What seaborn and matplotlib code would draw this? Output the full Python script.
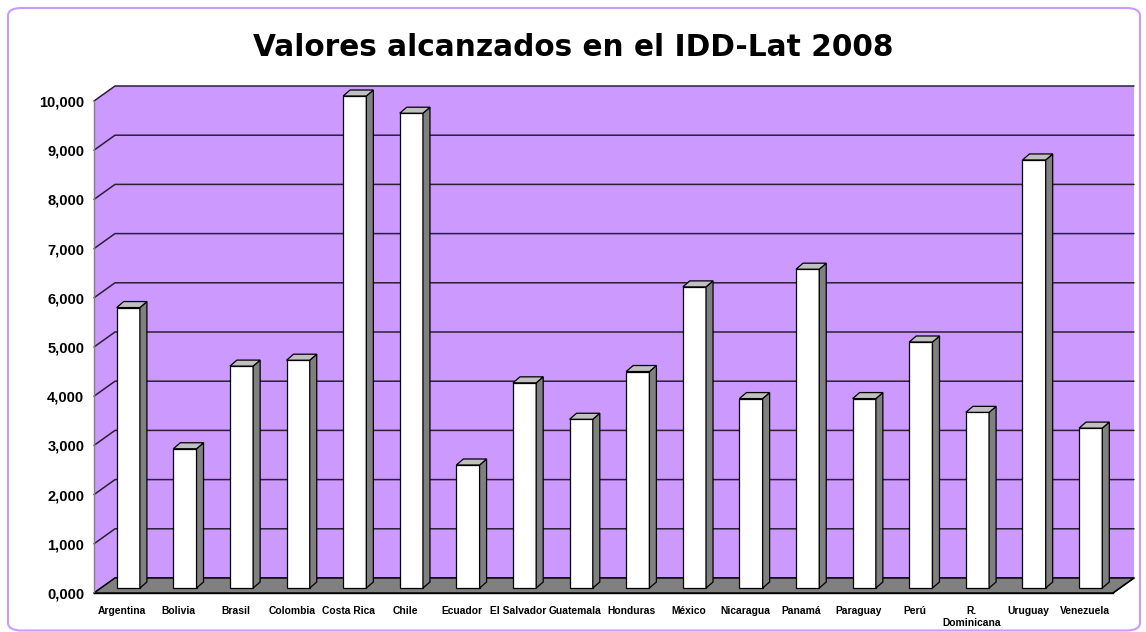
import matplotlib
matplotlib.use("Agg")
import matplotlib.pyplot as plt
import seaborn as sns
from matplotlib.patches import Polygon, FancyBboxPatch
from matplotlib.ticker import FixedLocator, FuncFormatter

countries = ["Argentina", "Bolivia", "Brasil", "Colombia", "Costa Rica", "Chile",
             "Ecuador", "El Salvador", "Guatemala", "Honduras", "México", "Nicaragua",
             "Panamá", "Paraguay", "Perú", "R.\nDominicana", "Uruguay", "Venezuela"]
values = [5.70, 2.83, 4.51, 4.63, 10.00, 9.65, 2.50, 4.17, 3.43, 4.40, 6.12, 3.85,
          6.48, 3.85, 5.00, 3.57, 8.70, 3.25]
yticks = list(range(0, 11))
title = "Valores alcanzados en el IDD-Lat 2008"

W, H = 1146, 632
sns.set_theme(style="white")
plt.rcParams['font.family'] = ['Liberation Sans', 'DejaVu Sans']
plt.rcParams['text.color'] = 'black'
plt.rcParams['xtick.labelcolor'] = 'black'
plt.rcParams['ytick.labelcolor'] = 'black'

fig = plt.figure(figsize=(W / 100, H / 100), dpi=100)
fig.patch.set_facecolor("white")
border = FancyBboxPatch((8 / W, 1.5 / H), 1132 / W, 622.5 / H, boxstyle="round,pad=0,rounding_size=0.012",
                        transform=fig.transFigure, facecolor="none", edgecolor="#CC99FF", linewidth=1.5)
fig.patches.append(border)

x0, x1, y0, ytop = 94, 1113, 593, 101
ax = fig.add_axes([x0 / W, (H - y0) / H, (x1 - x0) / W, (y0 - ytop) / H])
ax.set_facecolor("none")
n = len(countries)
ax.set_xlim(-0.5, n - 0.5)
ax.set_ylim(0, 10)

sx = n / (x1 - x0)
sy = 10 / (y0 - ytop)
WDX, WDY = 21 * sx, 15 * sy
BDX, BDY = 6 * sx, 5 * sy
DDX, DDY = 7 * sx, 6 * sy

purple = "#CC99FF"
gray = "#808080"
xl, xr = -0.5, n - 0.5
wall = Polygon([(xl, 0), (xl + WDX, WDY), (xr + WDX, WDY), (xr + WDX, 10 + WDY),
                (xl + WDX, 10 + WDY), (xl, 10)], closed=True, facecolor=purple,
               edgecolor="none", clip_on=False, zorder=0)
ax.add_patch(wall)
for k in yticks:
    ax.plot([xl, xl + WDX, xr + WDX], [k, k + WDY, k + WDY], color="#2a2035",
            lw=1.1, clip_on=False, zorder=1)
floor = Polygon([(xl, 0), (xr, 0), (xr + WDX, WDY), (xl + WDX, WDY)], closed=True,
                facecolor=gray, edgecolor="black", lw=1.0, clip_on=False, zorder=1.5)
ax.add_patch(floor)

df_x = list(range(n))
sns.barplot(x=df_x, y=values, color="white", edgecolor="black", linewidth=0.9,
            width=0.41, ax=ax, zorder=3, saturation=1)
for p in list(ax.patches):
    if p in (wall, floor):
        continue
    px, pw, ph = p.get_x(), p.get_width(), p.get_height()
    p.set_x(px + BDX)
    p.set_y(BDY)
    p.set_clip_on(False)
    bx1 = px + BDX + pw
    side = Polygon([(bx1, BDY), (bx1, BDY + ph), (bx1 + DDX, BDY + ph + DDY), (bx1 + DDX, BDY + DDY)],
                   closed=True, facecolor=gray, edgecolor="black", lw=0.9, clip_on=False, zorder=3)
    top = Polygon([(px + BDX, BDY + ph), (bx1, BDY + ph), (bx1 + DDX, BDY + ph + DDY),
                   (px + BDX + DDX, BDY + ph + DDY)], closed=True, facecolor="#C0C0C0",
                  edgecolor="black", lw=0.9, clip_on=False, zorder=3)
    ax.add_patch(side)
    ax.add_patch(top)

for s in ["top", "right"]:
    ax.spines[s].set_visible(False)
ax.spines["left"].set_color(gray)
ax.spines["left"].set_linewidth(1.0)
ax.spines["bottom"].set_color("black")
ax.spines["bottom"].set_linewidth(1.0)
ax.plot([xr, xr + WDX], [0, WDY], color="black", lw=1.0, clip_on=False, zorder=2)

ax.yaxis.set_major_locator(FixedLocator(yticks))
ax.yaxis.set_major_formatter(FuncFormatter(lambda v, _: f"{v:.3f}".replace(".", ",")))
ax.tick_params(axis="y", length=5, color=gray, width=1, labelsize=10.5, pad=2, labelcolor="black")
for t in ax.get_yticklabels():
    t.set_fontweight("bold")

ax.set_xticks(range(n))
ax.set_xticklabels(countries, fontsize=7.4, fontweight="bold", linespacing=1.25)
ax.tick_params(axis="x", which="major", length=0, pad=9, labelcolor="black")
ax.set_xticks([i - 0.5 for i in range(n + 1)], minor=True)
ax.tick_params(axis="x", which="minor", length=6, color="black", width=1)
ax.set_xlabel("")
ax.set_ylabel("")

fig.text(573 / W, 1 - 48 / H, title, ha="center", va="center", fontsize=21.3,
         fontweight="bold", color="black", family=["DejaVu Sans"])

fig.savefig("out.png", dpi=100)
